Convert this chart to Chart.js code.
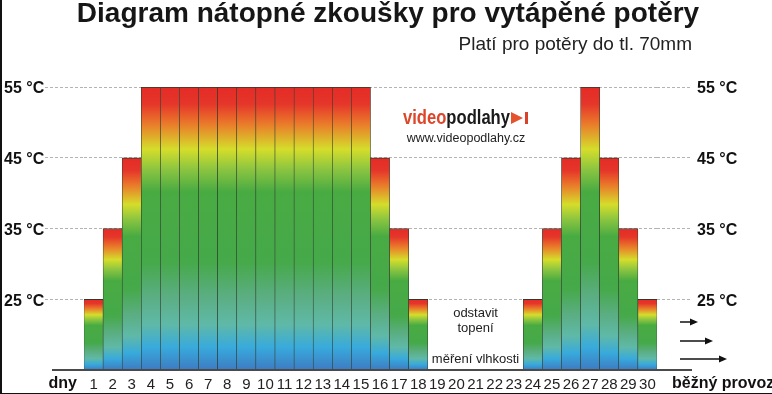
<!DOCTYPE html>
<html lang="cs">
<head>
<meta charset="utf-8">
<title>Diagram nátopné zkoušky</title>
<script src="https://cdn.jsdelivr.net/npm/chart.js@4/dist/chart.umd.min.js"></script>
<style>
    body { margin: 0; background: #fff; }
    canvas { display: block; }
</style>
</head>
<body>
<canvas id="diagram" width="772" height="394"></canvas>
<script>
// data
const days = ["1", "2", "3", "4", "5", "6", "7", "8", "9", "10", "11", "12", "13", "14", "15",
    "16", "17", "18", "19", "20", "21", "22", "23", "24", "25", "26", "27", "28", "29", "30"]
const temps = [25, 35, 45, 55, 55, 55, 55, 55, 55, 55, 55, 55, 55, 55, 55,
    45, 35, 25, null, null, null, null, null, 25, 35, 45, 55, 45, 35, 25]
const yTicks = [25, 35, 45, 55]
const yMin = 15
const yMax = 55

const titleText = "Diagram nátopné zkoušky pro vytápěné potěry"
const subtitleText = "Platí pro potěry do tl. 70mm"
const axisStart = "dny"
const axisEnd = "běžný provoz"
const noteOff = ["odstavit", "topení"]
const noteMeasure = "měření vlhkosti"
const logoRed = "video"
const logoBlack = "podlahy"
const logoUrl = "www.videopodlahy.cz"

const FONT = '"Liberation Sans", Arial, sans-serif'

// colour of a bar from its top (0) to the bottom (1)
const barStops = [
    [0, "#e42b26"],
    [0.06, "#e5362a"],
    [0.13, "#ea7a2a"],
    [0.22, "#d5dd2b"],
    [0.29, "#8cc540"],
    [0.37, "#48ab42"],
    [0.62, "#46a94a"],
    [0.74, "#5bae82"],
    [0.84, "#5fb9a8"],
    [0.92, "#38aadc"],
    [1, "#3d7bc2"]
]

function barGradient(c) {
    const chart = c.chart
    if (!chart.chartArea || c.raw == null) return barStops[5][1]
    const y = chart.scales.y
    const top = y.getPixelForValue(c.raw)
    const bottom = y.getPixelForValue(yMin)
    const g = chart.ctx.createLinearGradient(0, top, 0, bottom)
    barStops.forEach(s => g.addColorStop(s[0], s[1]))
    return g
}

function setTicks(axis) {
    axis.ticks = yTicks.map(v => ({ value: v }))
}

// texts, arrows, baseline and the logo around the bars
const extras = {
    id: "extras",
    afterDraw(chart) {
        const { ctx, chartArea: a, scales: { x, y } } = chart
        const base = y.getPixelForValue(yMin)
        ctx.save()

        // dark edge of the scanned picture
        ctx.fillStyle = "#111"
        ctx.fillRect(0, 0, 2, chart.height)
        ctx.fillRect(0, chart.height - 1, chart.width, 1)

        // subtitle, right aligned with the grid lines
        ctx.fillStyle = "#222"
        ctx.font = "19px " + FONT
        ctx.textAlign = "right"
        ctx.textBaseline = "alphabetic"
        ctx.fillText(subtitleText, a.right + 35, a.top - 37)

        ctx.strokeStyle = "#4a4a4a"
        ctx.lineWidth = 2
        ctx.beginPath()
        ctx.moveTo(a.left - 32, base)
        ctx.lineTo(a.right + 35, base)
        ctx.stroke()

        ctx.fillStyle = "#111"
        ctx.textBaseline = "middle"
        ctx.font = "bold 16px " + FONT
        ctx.textAlign = "right"
        ctx.fillText(axisStart, a.left - 7, base + 14)
        ctx.textAlign = "left"
        ctx.fillText(axisEnd, a.right + 15, base + 14)

        // note in the gap
        const mid = x.getPixelForValue(20)
        ctx.textAlign = "center"
        ctx.fillStyle = "#222"
        ctx.font = "13px " + FONT
        ctx.fillText(noteOff[0], mid, base - 57)
        ctx.fillText(noteOff[1], mid, base - 42)
        ctx.fillText(noteMeasure, mid, base - 11)

        // arrows
        ctx.strokeStyle = "#111"
        ctx.fillStyle = "#111"
        ctx.lineWidth = 1.5
        const arrows = [[41, 48], [56, 29], [70, 11]]
        arrows.forEach(ar => {
            const x0 = a.right + 23
            const x1 = a.right + ar[0]
            const yy = base - ar[1]
            ctx.beginPath()
            ctx.moveTo(x0, yy)
            ctx.lineTo(x1 - 6, yy)
            ctx.stroke()
            ctx.beginPath()
            ctx.moveTo(x1, yy)
            ctx.lineTo(x1 - 8, yy - 3.5)
            ctx.lineTo(x1 - 8, yy + 3.5)
            ctx.closePath()
            ctx.fill()
        })

        // logo
        const lx = a.left + 319
        const ly = a.top + 37
        ctx.save()
        ctx.translate(lx, ly)
        ctx.scale(0.83, 1)
        ctx.textAlign = "left"
        ctx.textBaseline = "alphabetic"
        ctx.font = "bold 20px " + FONT
        ctx.fillStyle = "#de4529"
        ctx.fillText(logoRed, 0, 0)
        const w1 = ctx.measureText(logoRed).width
        ctx.fillStyle = "#1a1a1a"
        ctx.fillText(logoBlack, w1, 0)
        const w2 = ctx.measureText(logoBlack).width
        ctx.restore()
        const ex = lx + (w1 + w2) * 0.83 + 1
        ctx.fillStyle = "#e5532d"
        ctx.beginPath()
        ctx.moveTo(ex, ly - 12)
        ctx.lineTo(ex + 12, ly - 6)
        ctx.lineTo(ex, ly)
        ctx.closePath()
        ctx.fill()
        ctx.fillStyle = "#d9412b"
        ctx.fillRect(ex + 14, ly - 12, 3, 12)

        ctx.fillStyle = "#222"
        ctx.font = "12.5px " + FONT
        ctx.textAlign = "center"
        ctx.fillText(logoUrl, lx + 63, ly + 15)

        ctx.restore()
    }
}

document.addEventListener("DOMContentLoaded", function () {
    const ctx = document.getElementById("diagram").getContext("2d")
    new Chart(ctx, {
        type: "bar",
        data: {
            labels: days,
            datasets: [
                {
                    label: "Teplota",
                    data: temps,
                    backgroundColor: barGradient,
                    borderColor: "#2b3a2b",
                    borderWidth: { top: 1, left: 0.6, right: 0.6, bottom: 0 },
                    categoryPercentage: 1,
                    barPercentage: 1
                }
            ]
        },
        options: {
            responsive: false,
            animation: false,
            devicePixelRatio: 1,
            layout: { padding: { left: 4, right: 0, top: 0, bottom: 0 } },
            plugins: {
                legend: { display: false },
                tooltip: { enabled: false },
                title: {
                    display: true,
                    text: titleText,
                    align: "center",
                    color: "#161616",
                    font: { family: FONT, size: 28, weight: "bold", lineHeight: 1 },
                    padding: { top: 0, bottom: 59 }
                }
            },
            scales: {
                x: {
                    type: "category",
                    offset: true,
                    afterFit: function (scale) { scale.height = 24 },
                    grid: { display: false, drawTicks: false },
                    border: { display: false },
                    ticks: {
                        color: "#222",
                        font: { family: FONT, size: 15 },
                        maxRotation: 0,
                        autoSkip: false,
                        padding: 6
                    }
                },
                y: {
                    position: "left",
                    min: yMin,
                    max: yMax,
                    afterBuildTicks: setTicks,
                    afterFit: function (scale) { scale.width = 80 },
                    border: { display: false, dash: [3, 2] },
                    grid: {
                        color: "#b3b3b3",
                        tickColor: "#b3b3b3",
                        tickLength: 39,
                        tickBorderDash: [3, 2]
                    },
                    ticks: {
                        crossAlign: "far",
                        labelOffset: 2,
                        color: "#111",
                        font: { family: FONT, size: 16, weight: "bold" },
                        callback: v => v + " °C"
                    }
                },
                y2: {
                    position: "right",
                    min: yMin,
                    max: yMax,
                    afterBuildTicks: setTicks,
                    afterFit: function (scale) { scale.width = 115 },
                    border: { display: false },
                    grid: {
                        drawOnChartArea: false,
                        tickColor: "#b3b3b3",
                        tickLength: 33,
                        tickBorderDash: [3, 2]
                    },
                    ticks: {
                        padding: 7,
                        labelOffset: 2,
                        color: "#111",
                        font: { family: FONT, size: 16, weight: "bold" },
                        callback: v => v + " °C"
                    }
                }
            }
        },
        plugins: [extras]
    })
})
</script>
</body>
</html>
